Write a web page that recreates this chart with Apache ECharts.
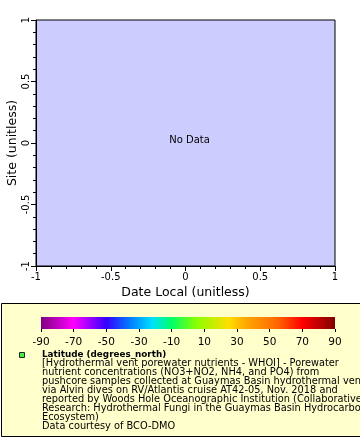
<!DOCTYPE html>
<html>
<head>
<meta charset="utf-8">
<script src="https://cdn.jsdelivr.net/npm/echarts@6/dist/echarts.min.js"></script>
<style>html,body{margin:0;padding:0;background:#fff}#c{width:360px;height:440px}</style>
</head>
<body>
<div id="c"></div>
<script>
// ---- data ----
const points = []; // no data in this chart
const xRange = [-1, 1];
const yRange = [-1, 1];
const colorbarRange = [-90, 90];
const colorbarTickStep = 20;
const colorbarStopValues = [-90, -70, -50, -35, -22, -10, 5, 25, 35, 55, 70, 90];
const colorbarStopColors = ['#800080', '#ff00ff', '#3300ff', '#0080ff', '#00e0ff', '#00ff66', '#88ff00', '#ffdd00', '#ffaa00', '#ff6600', '#ff0000', '#800000'];
const xAxisTitle = 'Date Local (unitless)';
const yAxisTitle = 'Site (unitless)';
const legendTitle = 'Latitude (degrees_north)';
const legendLines = [
  '[Hydrothermal vent porewater nutrients - WHOI] - Porewater',
  'nutrient concentrations (NO3+NO2, NH4, and PO4) from',
  'pushcore samples collected at Guaymas Basin hydrothermal vent',
  'via Alvin dives on RV/Atlantis cruise AT42-05, Nov. 2018 and',
  'reported by Woods Hole Oceanographic Institution (Collaborative',
  'Research: Hydrothermal Fungi in the Guaymas Basin Hydrocarbon',
  'Ecosystem)',
  'Data courtesy of BCO-DMO'
];

const FONT = 'DejaVu Sans';
const chart = echarts.init(document.getElementById('c'), null, {renderer: 'canvas'});

const span = colorbarRange[1] - colorbarRange[0];
const gradStops = colorbarStopValues.map((v, i) => ({offset: (v - colorbarRange[0]) / span, color: colorbarStopColors[i]}));

chart.setOption({
  backgroundColor: '#ffffff',
  animation: false,
  graphic: [
    {type: 'rect', z: -10, shape: {x: 1.5, y: 303.5, width: 400, height: 133}, style: {fill: '#ffffcc', stroke: '#000', lineWidth: 1}},
    {type: 'rect', z: 10, shape: {x: 19.5, y: 352.5, width: 5, height: 5}, style: {fill: '#44ee44', stroke: '#222', lineWidth: 1}},
    {type: 'text', z: 10, x: 42, y: 354.5, style: {text: legendTitle, font: 'bold 8.8px "' + FONT + '"', fill: '#000', textVerticalAlign: 'middle'}},
    {type: 'text', z: 10, x: 42, y: 359, style: {text: legendLines.join('\n'), font: '9.8px "' + FONT + '"', lineHeight: 9, fill: '#000', textVerticalAlign: 'top'}},
    {type: 'text', z: 10, x: 189.5, y: 140, style: {text: 'No Data', font: '10px "' + FONT + '"', fill: '#000', textAlign: 'center', textVerticalAlign: 'middle'}}
  ],
  grid: [
    {left: 36, top: 20, width: 299, height: 246, show: true, backgroundColor: '#ccccff', borderColor: '#000', borderWidth: 1, outerBoundsMode: 'none'},
    {left: 41, top: 317, width: 294, height: 12, show: false, outerBoundsMode: 'none'}
  ],
  xAxis: [
    {
      gridIndex: 0, type: 'value', min: xRange[0], max: xRange[1], interval: 0.5, position: 'bottom',
      name: xAxisTitle, nameLocation: 'middle', nameGap: 27, nameMoveOverlap: false,
      nameTextStyle: {fontFamily: FONT, fontSize: 12.5, color: '#000', verticalAlign: 'middle'},
      axisLine: {show: true, onZero: false, lineStyle: {color: '#000', width: 1}},
      axisTick: {show: true, inside: false, length: 5, lineStyle: {color: '#000'}},
      minorTick: {show: true, splitNumber: 5, length: 3, lineStyle: {color: '#000'}},
      splitLine: {show: false},
      axisLabel: {fontFamily: FONT, fontSize: 10, color: '#000', margin: 6, formatter: v => String(v)}
    },
    {
      gridIndex: 1, type: 'value', min: colorbarRange[0], max: colorbarRange[1], interval: colorbarTickStep,
      axisLine: {show: false, onZero: false},
      axisTick: {show: true, inside: false, length: 3, lineStyle: {color: '#000'}},
      splitLine: {show: false},
      axisLabel: {fontFamily: FONT, fontSize: 10.5, color: '#000', margin: 8}
    }
  ],
  yAxis: [
    {
      gridIndex: 0, type: 'value', min: yRange[0], max: yRange[1], interval: 0.5, position: 'left',
      name: yAxisTitle, nameLocation: 'middle', nameGap: 23, nameRotate: 90, nameMoveOverlap: false,
      nameTextStyle: {fontFamily: FONT, fontSize: 12.5, color: '#000', verticalAlign: 'middle'},
      axisLine: {show: true, onZero: false, lineStyle: {color: '#000', width: 1}},
      axisTick: {show: true, inside: false, length: 5, lineStyle: {color: '#000'}},
      minorTick: {show: true, splitNumber: 5, length: 3, lineStyle: {color: '#000'}},
      splitLine: {show: false},
      axisLabel: {fontFamily: FONT, fontSize: 10, color: '#000', margin: 5, rotate: 90, formatter: v => String(v)}
    },
    {gridIndex: 1, type: 'value', min: 0, max: 1, show: false}
  ],
  series: [
    {type: 'scatter', xAxisIndex: 0, yAxisIndex: 0, data: points},
    {
      type: 'custom', xAxisIndex: 1, yAxisIndex: 1, silent: true,
      data: [[colorbarRange[0], colorbarRange[1]]],
      renderItem: function (params, api) {
        const p0 = api.coord([api.value(0), 0]);
        const p1 = api.coord([api.value(1), 1]);
        return {
          type: 'rect',
          shape: {x: p0[0], y: p1[1], width: p1[0] - p0[0], height: p0[1] - p1[1]},
          style: {fill: new echarts.graphic.LinearGradient(0, 0, 1, 0, gradStops)}
        };
      }
    }
  ]
});
</script>
</body>
</html>
